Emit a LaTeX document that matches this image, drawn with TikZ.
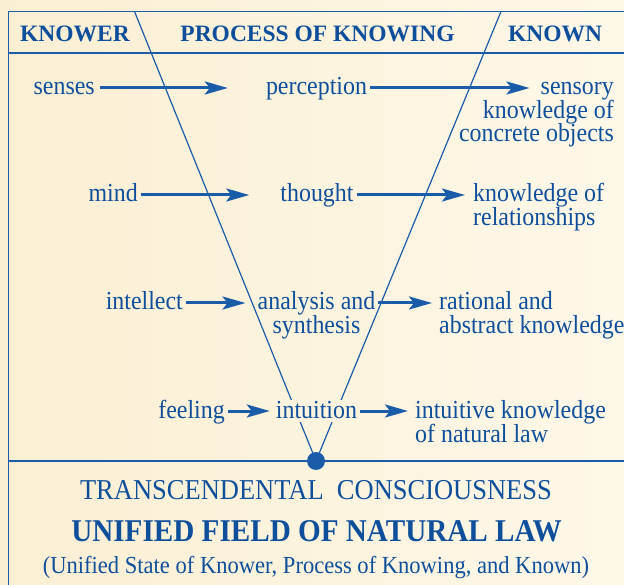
\documentclass[tikz,border=0pt]{standalone}
\usepackage{fontspec}
\setmainfont{Liberation Serif}
\newfontfamily\bodyfont[FakeStretch=0.92]{Liberation Serif}
\usetikzlibrary{arrows.meta}
\definecolor{tblue}{HTML}{0E4F9B}
\definecolor{lblue}{HTML}{1A5CA8}
\definecolor{bgl}{HTML}{FBEFD3}
\definecolor{bgr}{HTML}{FEF8E9}
\definecolor{bgm}{HTML}{FDF4E0}
\tikzset{
  txt/.style={font=\bodyfont\fontsize{26}{24}\selectfont, text=tblue, inner sep=0pt, text height=18pt, text depth=4pt},
  hdr/.style={font=\bfseries\fontsize{23.5}{26}\selectfont, text=tblue, inner sep=0pt},
  arr/.style={line width=3pt, draw=lblue, -{Stealth[length=23pt,width=13pt,inset=5pt]}},
  frame/.style={line width=1.5pt, draw=lblue},
  vline/.style={line width=1.2pt, draw=lblue},
}
\begin{document}
\begin{tikzpicture}[x=1pt,y=-1pt]
\useasboundingbox (0,0) rectangle (624,585);
\shade[left color=bgl, right color=bgr] (0,0) rectangle (624,585);
% frame
\draw[frame] (624,11.5) -- (8.5,11.5) -- (8.5,585);
\draw[frame] (8.5,53) -- (624,53);
\draw[frame] (8.5,461) -- (624,461);
% V
\coordinate (vl) at (134.5,11.5);
\coordinate (vr) at (501,11.5);
\node[circle, fill=lblue, inner sep=0pt, minimum size=18pt] (dot) at (316,461) {};
\draw[vline] (vl) -- (dot.center);
\draw[vline] (vr) -- (dot.center);
% header
\node[hdr, anchor=base] (h1) at (75,42) {KNOWER};
\node[hdr, anchor=base] (h2) at (317.5,42) {PROCESS OF KNOWING};
\node[hdr, anchor=base] (h3) at (555,42) {KNOWN};
% row 1
\node[txt, anchor=base east] (senses) at (95,95) {senses};
\node[txt, anchor=base] (perception) at (316.5,95) {perception};
\node[txt, anchor=base east] (k1a) at (614,95) {sensory};
\node[txt, anchor=base east] (k1b) at (614,118.5) {knowledge of};
\node[txt, anchor=base east] (k1c) at (614,142) {concrete objects};
\draw[arr, shorten <=5pt, shorten >=38pt] (senses.east) -- (perception.west);
\draw[arr, shorten <=3pt, shorten >=11pt] (perception.east) -- (k1a.west);
% row 2
\node[txt, anchor=base east] (mind) at (138,202) {mind};
\node[txt, anchor=base] (thought) at (317,202) {thought};
\node[txt, anchor=base west] (k2a) at (473,202) {knowledge of};
\node[txt, anchor=base west] (k2b) at (473,226) {relationships};
\draw[arr, shorten <=3pt, shorten >=31pt] (mind.east) -- (thought.west);
\draw[arr, shorten <=3pt, shorten >=8pt] (thought.east) -- (k2a.west);
% row 3
\node[txt, anchor=base east] (intellect) at (183,310) {intellect};
\node[txt, anchor=base] (analysis) at (316.5,310) {analysis and};
\node[txt, anchor=base] (synthesis) at (316.5,334) {synthesis};
\node[txt, anchor=base west] (k3a) at (439,310) {rational and};
\node[txt, anchor=base west] (k3b) at (439,334) {abstract knowledge};
\draw[arr, shorten <=3pt, shorten >=12pt] (intellect.east) -- (analysis.west);
\draw[arr, shorten <=3pt, shorten >=7pt] (analysis.east) -- (k3a.west);
% row 4
\node[txt, anchor=base east] (feeling) at (225,418) {feeling};
\node[txt, anchor=base, fill=bgm, inner xsep=1pt] (intuition) at (316.5,418) {intuition};
\node[txt, anchor=base west] (k4a) at (415,418) {intuitive knowledge};
\node[txt, anchor=base west] (k4b) at (415,442) {of natural law};
\draw[arr, shorten <=3pt, shorten >=5pt] (feeling.east) -- (intuition.west);
\draw[arr, shorten <=2pt, shorten >=7pt] (intuition.east) -- (k4a.west);
% bottom
\node[anchor=base, inner sep=0pt, text=tblue, font=\bodyfont\fontsize{28.8}{30}\selectfont] (tc) at (316,499) {TRANSCENDENTAL\ \ CONSCIOUSNESS};
\node[anchor=base, inner sep=0pt, text=tblue, font=\bodyfont\bfseries\fontsize{31.7}{32}\selectfont] (uf) at (316.5,541) {UNIFIED FIELD OF NATURAL LAW};
\node[anchor=base, inner sep=0pt, text=tblue, font=\bodyfont\fontsize{24.5}{26}\selectfont] (us) at (316,573) {(Unified State of Knower, Process of Knowing, and Known)};
\end{tikzpicture}
\end{document}
